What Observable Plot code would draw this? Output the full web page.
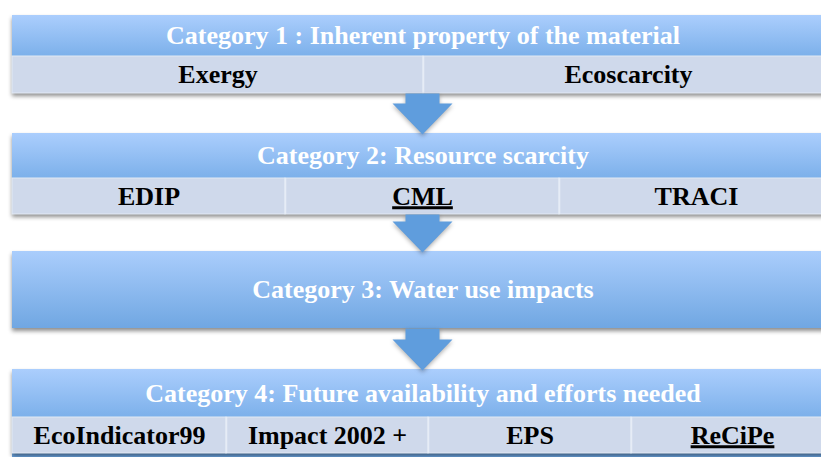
<!DOCTYPE html>
<html>
<head>
<meta charset="utf-8">
<script src="https://cdn.jsdelivr.net/npm/d3@7"></script>
<script src="https://cdn.jsdelivr.net/npm/@observablehq/plot@0.6"></script>
<style>
  html, body { margin: 0; padding: 0; background: #fff; overflow: hidden; }
  #chart svg { display: block; }
</style>
</head>
<body>
<div id="chart"></div>
<script>
// ---- data ----
const categories = [
  "Category 1 : Inherent property of the material",
  "Category 2: Resource scarcity",
  "Category 3: Water use impacts",
  "Category 4: Future availability and efforts needed"
];
const methods1 = ["Exergy", "Ecoscarcity"];
const methods2 = ["EDIP", "CML", "TRACI"];
const methods3 = [];
const methods4 = ["EcoIndicator99", "Impact 2002 +", "EPS", "ReCiPe"];
const underlined = ["CML", "ReCiPe"];

// ---- layout ----
const W = 821, H = 457;
const L = 12, R = 833;
const tops = [15, 133, 251, 369];
const headBottoms = [56, 178, 328, 417];
const subBottoms = [93, 214, null, 453];
const colEdges = [
  [L, 423, R],
  [L, 285, 559, R],
  [],
  [L, 226, 428, 631, R]
];
const methodLists = [methods1, methods2, methods3, methods4];

const blocks = categories.map((name, i) => ({
  name, i,
  x1: L, x2: R,
  y1: tops[i],
  y2: subBottoms[i] ?? headBottoms[i],
  hy2: headBottoms[i]
}));

const cells = [];
const dividers = [];
methodLists.forEach((list, i) => {
  list.forEach((m, j) => {
    const e = colEdges[i];
    cells.push({name: m, x1: e[j], x2: e[j + 1], y1: headBottoms[i], y2: subBottoms[i]});
    if (j > 0) dividers.push({x: e[j], y1: headBottoms[i], y2: subBottoms[i]});
  });
});

// arrows between consecutive blocks
const cx = 422;
const arrows = [];
for (let i = 0; i < 3; i++) {
  const top = subBottoms[i] ?? headBottoms[i];
  const tip = tops[i + 1];
  const shoulder = tip - 30;
  const pts = [
    [cx - 17, top], [cx + 17, top], [cx + 17, shoulder], [cx + 30, shoulder],
    [cx, tip + 1], [cx - 30, shoulder], [cx - 17, shoulder], [cx - 17, top]
  ];
  pts.forEach(([x, y]) => arrows.push({k: i, x, y}));
}

const font = "'Liberation Serif', 'Times New Roman', serif";

const plot = Plot.plot({
  width: W, height: H, margin: 0,
  x: {domain: [0, W], range: [0, W], axis: null},
  y: {domain: [0, H], range: [0, H], axis: null},
  style: {fontFamily: font, background: "white", overflow: "hidden"},
  marks: [
    // bottom strip (next block peeking)
    Plot.rect([{x1: L, x2: R, y1: 453, y2: 470}], {x1: "x1", x2: "x2", y1: "y1", y2: "y2", fill: "#6ea7e3"}),
    // block bodies (shadowed)
    Plot.rect(blocks, {x1: "x1", x2: "x2", y1: "y1", y2: "y2", fill: "#cfd9eb", ariaLabel: () => "blockbody"}),
    // header gradients
    Plot.rect(blocks.filter(d => d.i !== 2), {x1: "x1", x2: "x2", y1: "y1", y2: "hy2", fill: "url(#hg)"}),
    Plot.rect(blocks.filter(d => d.i === 2), {x1: "x1", x2: "x2", y1: "y1", y2: "hy2", fill: "url(#hg3)"}),
    // sub-row cells
    Plot.rect(cells, {x1: "x1", x2: "x2", y1: "y1", y2: "y2", fill: "#cfd9eb", stroke: "#e2e9f4", strokeWidth: 1}),
    Plot.ruleX(dividers, {x: "x", y1: "y1", y2: "y2", stroke: "#e6ecf6", strokeWidth: 1.5}),
    // arrows
    Plot.line(arrows, {x: "x", y: "y", z: "k", fill: "#5f9ddd", stroke: "none", curve: "linear"}),
    // header texts
    Plot.text(blocks, {
      x: d => (d.x1 + d.x2) / 2, y: d => (d.y1 + d.hy2) / 2, text: "name",
      fill: "white", fontSize: 26, fontWeight: "bold"
    }),
    // method texts
    Plot.text(cells, {
      x: d => (d.x1 + d.x2) / 2, y: d => (d.y1 + d.y2) / 2, text: "name",
      fill: "black", fontSize: 26, fontWeight: "bold"
    })
  ]
});

const svg = d3.select(plot);
const defs = svg.insert("defs", ":first-child");
const hg = defs.append("linearGradient").attr("id", "hg").attr("x1", 0).attr("y1", 0).attr("x2", 0).attr("y2", 1);
hg.append("stop").attr("offset", "0%").attr("stop-color", "#abcefd");
hg.append("stop").attr("offset", "100%").attr("stop-color", "#7cb0ea");
const hg3 = defs.append("linearGradient").attr("id", "hg3").attr("x1", 0).attr("y1", 0).attr("x2", 0).attr("y2", 1);
hg3.append("stop").attr("offset", "0%").attr("stop-color", "#aacdfc");
hg3.append("stop").attr("offset", "100%").attr("stop-color", "#70a7e2");

svg.selectAll("rect[aria-label=blockbody]").style("filter", "drop-shadow(0px 3px 2px rgba(0,0,0,0.45))");
svg.selectAll("g[aria-label=line]").style("filter", "drop-shadow(0px 2px 2px rgba(0,0,0,0.3))");

document.getElementById("chart").appendChild(plot);

// underline selected method names
svg.selectAll("text")
  .filter(function() { return underlined.includes(this.textContent); })
  .each(function() {
    const b = this.getBBox();
    const tr = this.getAttribute("transform");
    const g = d3.select(this.parentNode);
    const y = b.y + b.height - 3;
    g.append("line")
      .attr("x1", b.x).attr("x2", b.x + b.width)
      .attr("y1", y).attr("y2", y)
      .attr("transform", tr)
      .attr("stroke", "black").attr("stroke-width", 3);
  });
</script>
</body>
</html>
